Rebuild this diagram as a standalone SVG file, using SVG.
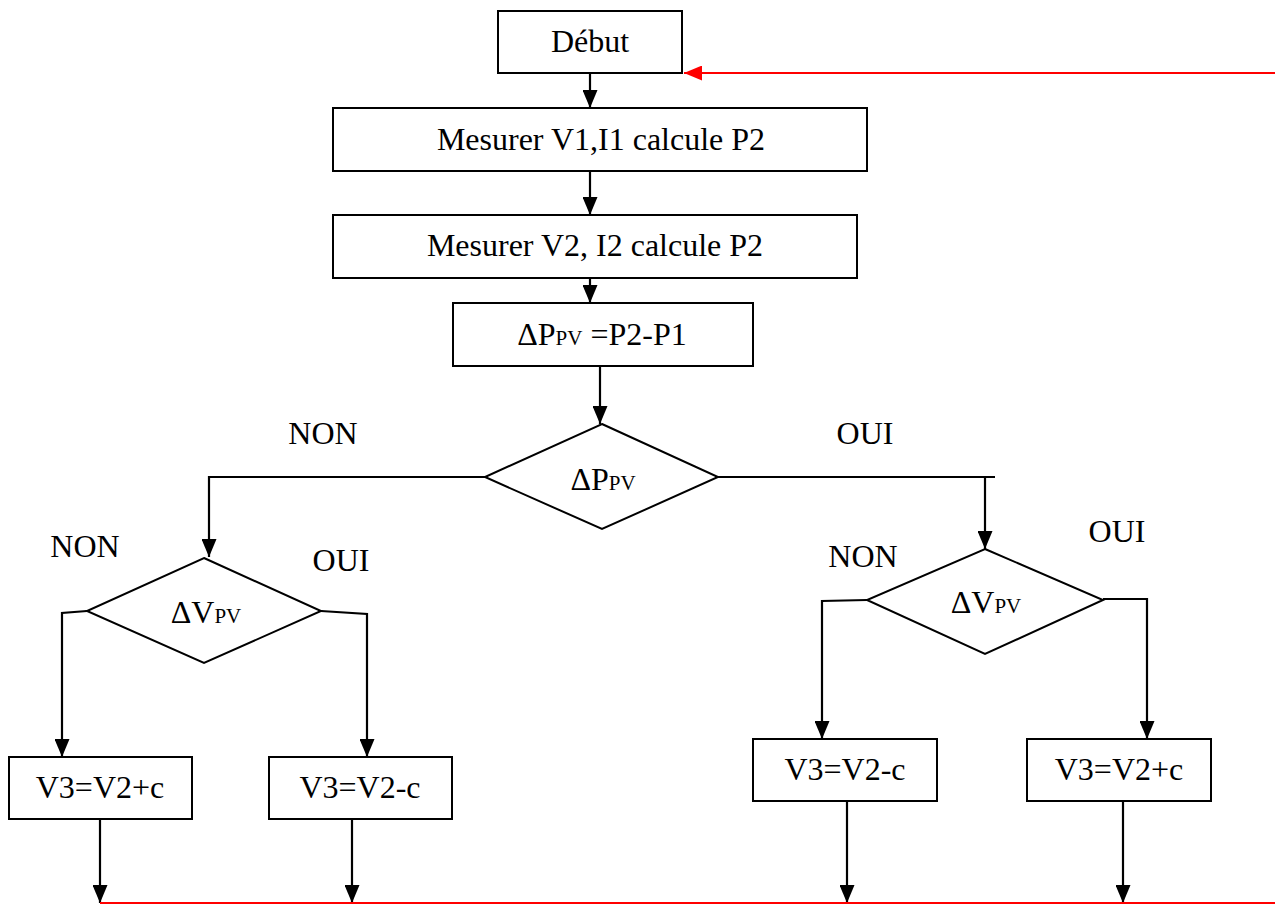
<svg xmlns="http://www.w3.org/2000/svg" width="1275" height="904" viewBox="0 0 1275 904">
<style>
.box{fill:#fff;stroke:#000;stroke-width:2}
.t{font-family:"Liberation Serif","Times New Roman",serif;font-size:32px;fill:#000;text-anchor:middle}
.sub{font-size:21px}
.c{fill:none;stroke:#000;stroke-width:2.2}
.r{fill:none;stroke:#ff0000;stroke-width:2.2}
</style>
<defs>
<marker id="ah" markerUnits="userSpaceOnUse" markerWidth="18" markerHeight="15" refX="18" refY="7.5" orient="auto">
<path d="M0,0 L18,7.5 L0,15 z" fill="#000"/>
</marker>
<marker id="ahr" markerUnits="userSpaceOnUse" markerWidth="18" markerHeight="15" refX="18" refY="7.5" orient="auto">
<path d="M0,0 L18,7.5 L0,15 z" fill="#ff0000"/>
</marker>
</defs>
<rect width="1275" height="904" fill="#fff"/>
<g id="connectors">
<line class="c" x1="590" y1="73" x2="590" y2="108" marker-end="url(#ah)"/>
<line class="c" x1="590" y1="171" x2="590" y2="215" marker-end="url(#ah)"/>
<line class="c" x1="590" y1="278" x2="590" y2="303" marker-end="url(#ah)"/>
<line class="c" x1="600" y1="366" x2="600" y2="424" marker-end="url(#ah)"/>
<polyline class="c" points="485,477 209,477 209,557" marker-end="url(#ah)"/>
<line class="c" x1="718" y1="477" x2="995" y2="477"/>
<line class="c" x1="985" y1="477" x2="985" y2="549" marker-end="url(#ah)"/>
<polyline class="c" points="87,611 62,613 62,757" marker-end="url(#ah)"/>
<polyline class="c" points="321,611 367,614 367,757" marker-end="url(#ah)"/>
<polyline class="c" points="867,600 822,601 822,739" marker-end="url(#ah)"/>
<polyline class="c" points="1103,599 1147,599 1147,739" marker-end="url(#ah)"/>
<line class="c" x1="100" y1="819" x2="100" y2="903" marker-end="url(#ah)"/>
<line class="c" x1="352" y1="818" x2="352" y2="903" marker-end="url(#ah)"/>
<line class="c" x1="847" y1="801" x2="847" y2="903" marker-end="url(#ah)"/>
<line class="c" x1="1123" y1="801" x2="1123" y2="903" marker-end="url(#ah)"/>
<line class="r" x1="1275" y1="73" x2="684" y2="73" marker-end="url(#ahr)"/>
<line class="r" x1="100" y1="903" x2="1275" y2="903" stroke-width="1.5"/>
</g>
<g id="debut"><rect class="box" x="498" y="11" width="184" height="62"/><text class="t" x="590" y="52">Début</text></g>
<g id="mesure1"><rect class="box" x="333" y="108" width="534" height="63"/><text class="t" x="601" y="150">Mesurer V1,I1 calcule P2</text></g>
<g id="mesure2"><rect class="box" x="333" y="215" width="524" height="63"/><text class="t" x="595" y="256">Mesurer V2, I2 calcule P2</text></g>
<g id="deltaP"><rect class="box" x="453" y="303" width="300" height="63"/><text class="t" x="602" y="345">ΔP<tspan class="sub">PV</tspan> =P2-P1</text></g>
<g id="decP"><polygon class="box" points="602,424 718,477 602,529 485,477"/><text class="t" x="603" y="490">ΔP<tspan class="sub">PV</tspan></text></g>
<g id="decVL"><polygon class="box" points="204,558 321,611 204,663 87,611"/><text class="t" x="206" y="623">ΔV<tspan class="sub">PV</tspan></text></g>
<g id="decVR"><polygon class="box" points="985,549 1103,600 985,654 867,600"/><text class="t" x="986" y="613">ΔV<tspan class="sub">PV</tspan></text></g>
<g id="b1"><rect class="box" x="9" y="757" width="183" height="62"/><text class="t" x="100" y="798">V3=V2+c</text></g>
<g id="b2"><rect class="box" x="269" y="757" width="183" height="62"/><text class="t" x="360" y="798">V3=V2-c</text></g>
<g id="b3"><rect class="box" x="753" y="739" width="184" height="62"/><text class="t" x="845" y="780">V3=V2-c</text></g>
<g id="b4"><rect class="box" x="1027" y="739" width="184" height="62"/><text class="t" x="1119" y="780">V3=V2+c</text></g>
<g id="labels">
<text class="t" x="323" y="444">NON</text>
<text class="t" x="865" y="444">OUI</text>
<text class="t" x="85" y="557">NON</text>
<text class="t" x="341" y="571">OUI</text>
<text class="t" x="863" y="567">NON</text>
<text class="t" x="1117" y="542">OUI</text>
</g>
</svg>
